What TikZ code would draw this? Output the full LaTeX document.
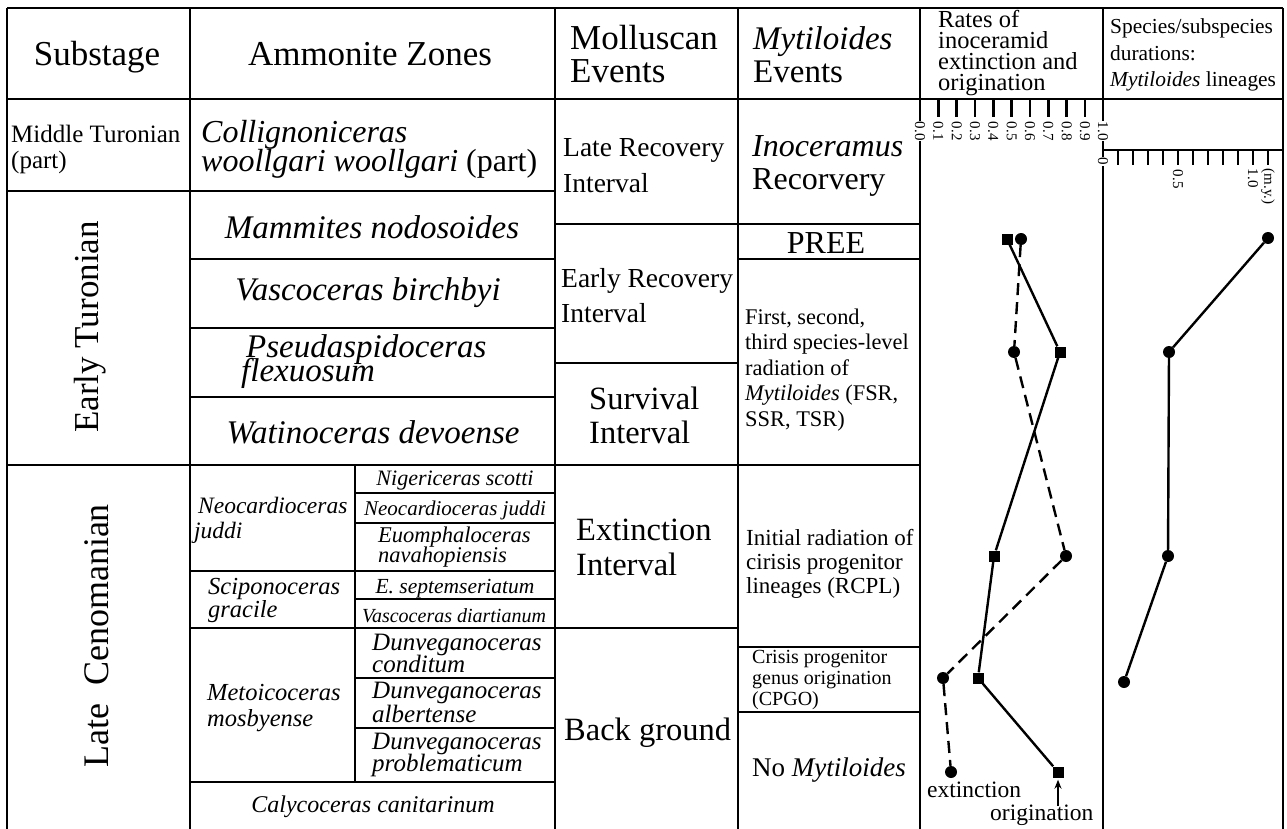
\documentclass[tikz,border=0pt]{standalone}
\usepackage{fontspec}
\setmainfont{Liberation Serif}
\usetikzlibrary{arrows.meta}
\newcommand{\myfs}[1]{\fontsize{#1}{#1}\selectfont}
% stack of lines: first baseline is the node's baseline
\newcommand{\stk}[2]{\vtop{\baselineskip=#1pt\lineskiplimit=-100pt\lineskip=0pt #2}}
\begin{document}
\begin{tikzpicture}[x=1pt,y=-1pt,
 grid/.style={line width=2.2pt},
 lb/.style={inner sep=0pt, anchor=base west},
 cb/.style={inner sep=0pt, anchor=base},
 tickmark/.style={line width=2.8pt},
 tl/.style={inner sep=0.6pt, anchor=west, rotate=-90, font=\myfs{15}},
 tlw/.style={tl, fill=white},
 sq/.style={rectangle, fill=black, inner sep=0pt, minimum size=11pt},
 dot/.style={circle, fill=black, inner sep=0pt, minimum size=12pt},
 origline/.style={line width=2.4pt},
 extline/.style={line width=2.4pt, dash pattern=on 12pt off 7pt},
 arr/.style={line width=1.8pt, -{Stealth[length=9pt,width=7pt]}, shorten >=2pt},
]
\useasboundingbox (0,0) rectangle (1287,829);
\fill[white] (0,0) rectangle (1287,829);

% ---------- grid ----------
\draw[grid] (7,8) -- (1283,8);
\draw[grid] (7,99) -- (1283,99);
\foreach \x in {7,190,555,738,920,1103,1283} \draw[grid] (\x,8) -- (\x,829);
\draw[grid] (355,465) -- (355,782);
\draw[grid] (7,191) -- (555,191);
\draw[grid] (190,259) -- (555,259);
\draw[grid] (190,328) -- (555,328);
\draw[grid] (190,397) -- (555,397);
\draw[grid] (7,465) -- (920,465);
\draw[grid] (355,493) -- (555,493);
\draw[grid] (355,523) -- (555,523);
\draw[grid] (190,571) -- (555,571);
\draw[grid] (355,599) -- (555,599);
\draw[grid] (190,628) -- (738,628);
\draw[grid] (355,678) -- (555,678);
\draw[grid] (355,728) -- (555,728);
\draw[grid] (190,782) -- (555,782);
\draw[grid] (555,224) -- (920,224);
\draw[grid] (738,259) -- (920,259);
\draw[grid] (555,363) -- (738,363);
\draw[grid] (738,647) -- (920,647);
\draw[grid] (738,712) -- (920,712);
\draw[grid] (1103,150) -- (1283,150);

% ---------- header ----------
\node[cb, font=\myfs{35}] (hSub) at (97,66) {Substage};
\node[cb, font=\myfs{35}] (hAmm) at (370,66) {Ammonite Zones};
\node[lb, font=\myfs{35}] (hMol) at (570,50) {\stk{33}{\hbox{Molluscan}\hbox{Events}}};
\node[lb, font=\myfs{33}] (hMyt) at (753,50) {\stk{33}{\hbox{\itshape Mytiloides}\hbox{Events}}};
\node[lb, font=\myfs{24.5}] (hRat) at (938,28) {\stk{21}{\hbox{Rates of}\hbox{inoceramid}\hbox{extinction and}\hbox{origination}}};
\node[lb, font=\myfs{21.4}] (hSp) at (1110,34) {\stk{26.5}{\hbox{Species/subspecies}\hbox{durations:}\hbox{\itshape Mytiloides\upshape{} lineages}}};

% ---------- substage ----------
\node[lb, font=\myfs{25}] (mt) at (11,143) {\stk{26}{\hbox{Middle Turonian}\hbox{(part)}}};
\node[inner sep=0pt, rotate=90, font=\myfs{35}] (et) at (90,327) {Early Turonian};
\node[inner sep=0pt, rotate=90, font=\myfs{36}] (lc) at (97,636) {Late\ \ Cenomanian};

% ---------- ammonite zones ----------
\node[lb, font=\myfs{32}] (cw) at (201,143) {\stk{29}{\hbox{\itshape Collignoniceras}\hbox{\itshape woollgari woollgari\upshape{} (part)}}};
\node[cb, font=\myfs{33}\itshape] (mn) at (372,238) {Mammites nodosoides};
\node[cb, font=\myfs{33}\itshape] (vb) at (368,300) {Vascoceras birchbyi};
\node[lb, font=\myfs{33}\itshape] (pf) at (246,357) {\stk{24}{\hbox{Pseudaspidoceras}\hbox{\kern-5pt flexuosum}}};
\node[cb, font=\myfs{33}\itshape] (wd) at (373,443) {Watinoceras devoense};

\node[lb, font=\myfs{23.5}\itshape] (nj) at (198,513) {\stk{25}{\hbox{Neocardioceras}\hbox{\kern-4pt juddi}}};
\node[lb, font=\myfs{24.5}\itshape] (sg) at (208,594) {\stk{23}{\hbox{Sciponoceras}\hbox{gracile}}};
\node[lb, font=\myfs{24.5}\itshape] (mm) at (207,700) {\stk{26}{\hbox{Metoicoceras}\hbox{mosbyense}}};

\node[cb, font=\myfs{22}\itshape] (ns) at (455,485) {Nigericeras scotti};
\node[cb, font=\myfs{21}\itshape] (nju) at (455,515) {Neocardioceras juddi};
\node[lb, font=\myfs{22.5}\itshape] (en) at (378,542) {\stk{20}{\hbox{Euomphaloceras}\hbox{navahopiensis}}};
\node[cb, font=\myfs{21.5}\itshape] (es) at (455,593) {E. septemseriatum};
\node[cb, font=\myfs{20}\itshape] (vd) at (454,622) {Vascoceras diartianum};
\node[lb, font=\myfs{25}\itshape] (dc) at (372,650) {\stk{22}{\hbox{Dunveganoceras}\hbox{conditum}}};
\node[lb, font=\myfs{25}\itshape] (da) at (372,698) {\stk{24}{\hbox{Dunveganoceras}\hbox{albertense}}};
\node[lb, font=\myfs{25}\itshape] (dp) at (372,749) {\stk{22}{\hbox{Dunveganoceras}\hbox{problematicum}}};
\node[cb, font=\myfs{24}\itshape] (cc) at (373,812) {Calycoceras canitarinum};

% ---------- molluscan events ----------
\node[lb, font=\myfs{27.5}] (lr) at (563,157) {\stk{36}{\hbox{Late Recovery}\hbox{Interval}}};
\node[lb, font=\myfs{27.5}] (er) at (561,287) {\stk{35}{\hbox{Early Recovery}\hbox{Interval}}};
\node[lb, font=\myfs{32.5}] (sv) at (589,409) {\stk{34}{\hbox{Survival}\hbox{Interval}}};
\node[lb, font=\myfs{32.5}] (ex) at (576,540) {\stk{35}{\hbox{Extinction}\hbox{Interval}}};
\node[lb, font=\myfs{32.5}] (bg) at (564,740) {Back ground};

% ---------- Mytiloides events ----------
\node[lb, font=\myfs{32}] (ir) at (752,157) {\stk{33}{\hbox{\itshape Inoceramus}\hbox{Recorvery}}};
\node[cb, font=\myfs{32}] (pree) at (826,253) {PREE};
\node[lb, font=\myfs{22.4}] (fs) at (745,324) {\stk{25.5}{\hbox{First, second,}\hbox{third species-level}\hbox{radiation of}\hbox{\itshape Mytiloides\upshape{} (FSR,}\hbox{SSR, TSR)}}};
\node[lb, font=\myfs{23}] (rc) at (746,545) {\stk{24}{\hbox{Initial radiation of}\hbox{cirisis progenitor}\hbox{lineages (RCPL)}}};
\node[lb, font=\myfs{20}] (cp) at (752,663) {\stk{21}{\hbox{Crisis progenitor}\hbox{genus origination}\hbox{(CPGO)}}};
\node[lb, font=\myfs{27}] (nm) at (752,776) {No \itshape Mytiloides};

% ---------- axes ----------
\foreach \k in {1,...,9} {
  \draw[tickmark] ({920+18.33*\k},99) -- ({920+18.33*\k},117);
  \node[tl] (rl\k) at ({920+18.33*\k},121) {0.\k};
}
\node[tlw] (rl0) at (920,121) {0.0};
\node[tlw] (rl10) at (1103,121) {1.0};
\foreach \k in {1,...,11} \draw[tickmark] ({1103+15*\k},150) -- ({1103+15*\k},165);
\node[tlw] (sl0) at (1103,157) {0};
\node[tl] (sl5) at (1178,169) {0.5};
\node[tl] (sl10) at (1253,168) {1.0};
\node[tl] (slmy) at (1268,168) {(m.y.)};

% ---------- rates plot ----------
\node[sq] (o1) at (1007,239) {};
\node[sq] (o2) at (1060,352) {};
\node[sq] (o3) at (994,556) {};
\node[sq] (o4) at (978,678) {};
\node[sq] (o5) at (1058,772) {};
\node[dot] (e1) at (1021,239) {};
\node[dot] (e2) at (1014,352) {};
\node[dot] (e3) at (1066,556) {};
\node[dot] (e4) at (943,678) {};
\node[dot] (e5) at (951,772) {};
\draw[origline] (o1) -- (o2) -- (o3) -- (o4) -- (o5);
\draw[extline] (e1) -- (e2) -- (e3) -- (e4) -- (e5);
\node[lb, font=\myfs{23.5}] (extlab) at (927,797) {extinction};
\node[lb, font=\myfs{23.5}] (origlab) at (990,820) {origination};
\coordinate (arrS) at (1058,806);
\draw[arr] (arrS) -- (o5);

% ---------- species durations ----------
\node[dot] (d1) at (1268,238) {};
\node[dot] (d2) at (1169,352) {};
\node[dot] (d3) at (1168,556) {};
\node[dot] (d4) at (1124,682) {};
\draw[origline] (d1) -- (d2) -- (d3) -- (d4);
\end{tikzpicture}
\end{document}
